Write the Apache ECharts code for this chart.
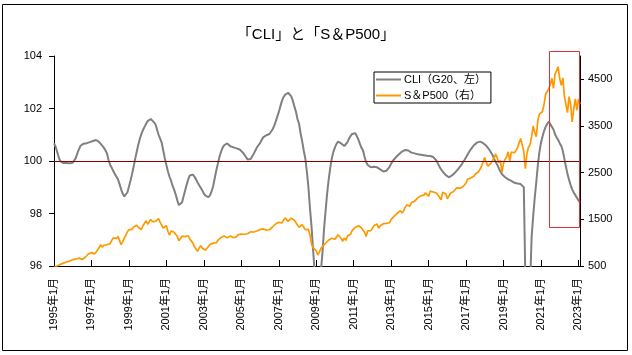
<!DOCTYPE html>
<html><head><meta charset="utf-8">
<script src="https://cdn.jsdelivr.net/npm/echarts@6/dist/echarts.min.js"></script>
<style>html,body{margin:0;padding:0;background:#fff}#c{width:632px;height:355px}</style>
</head><body><div id="c"></div>
<script>
// Categories: monthly from 1995年1月 to 2023年2月
const startYear = 1995;
const monthCount = 338;
const categories = [];
for (let i = 0; i < monthCount; i++) {
  categories.push((startYear + Math.floor(i / 12)) + '年' + (i % 12 + 1) + '月');
}

// OECD CLI (G20), left axis
const cliValues = [
  100.67,100.55,100.35,100.15,100.0,99.93,99.92,99.91,99.92,99.92,99.91,99.92,
  99.93,99.98,100.12,100.3,100.45,100.58,100.64,100.66,100.66,100.68,100.7,100.72,
  100.74,100.76,100.79,100.8,100.78,100.72,100.65,100.58,100.5,100.4,100.28,100.02,
  99.85,99.74,99.62,99.5,99.4,99.3,99.12,98.92,98.76,98.65,98.66,98.8,
  99.02,99.25,99.5,99.78,100.08,100.35,100.62,100.85,101.03,101.18,101.3,101.42,
  101.52,101.58,101.6,101.56,101.48,101.4,101.2,101.0,100.85,100.7,100.4,100.1,
  99.85,99.6,99.4,99.25,99.05,98.9,98.72,98.5,98.32,98.3,98.42,98.65,
  98.88,99.1,99.3,99.45,99.5,99.48,99.4,99.3,99.18,99.08,98.98,98.88,
  98.76,98.68,98.63,98.62,98.7,98.85,99.05,99.35,99.65,99.9,100.15,100.35,
  100.5,100.6,100.66,100.67,100.62,100.56,100.53,100.52,100.5,100.48,100.46,100.44,
  100.4,100.32,100.24,100.15,100.06,100.04,100.08,100.18,100.28,100.4,100.52,100.6,
  100.68,100.8,100.9,100.95,100.98,101.0,101.03,101.05,101.2,101.33,101.5,101.68,
  101.86,102.08,102.28,102.43,102.52,102.58,102.6,102.55,102.46,102.3,102.08,101.88,
  101.6,101.42,101.05,100.75,100.4,100.1,99.6,99.0,98.2,97.5,96.6,95.8,
  95.1,94.8,95.2,95.8,96.5,97.4,98.1,98.77,99.3,99.75,100.1,100.35,
  100.52,100.65,100.74,100.72,100.67,100.62,100.57,100.62,100.72,100.85,100.95,101.03,
  101.07,101.06,100.95,100.82,100.65,100.5,100.4,100.15,99.95,99.85,99.78,99.76,
  99.77,99.78,99.78,99.76,99.72,99.68,99.64,99.6,99.59,99.63,99.7,99.78,
  99.9,100.0,100.06,100.14,100.2,100.26,100.32,100.36,100.4,100.42,100.42,100.4,
  100.36,100.32,100.3,100.29,100.27,100.26,100.25,100.24,100.23,100.22,100.21,100.2,
  100.2,100.19,100.19,100.15,100.08,100.02,99.9,99.78,99.68,99.6,99.53,99.46,
  99.4,99.38,99.4,99.45,99.5,99.56,99.63,99.7,99.76,99.85,99.95,100.04,
  100.14,100.25,100.35,100.44,100.52,100.6,100.66,100.7,100.73,100.74,100.72,100.68,
  100.65,100.58,100.5,100.42,100.32,100.22,100.08,99.96,99.86,99.72,99.6,99.5,
  99.44,99.38,99.33,99.3,99.28,99.24,99.2,99.17,99.15,99.14,99.13,99.12,
  99.12,99.0,95.5,92.5,93.0,95.2,97.1,97.9,98.6,99.2,99.85,100.35,
  100.7,100.93,101.15,101.3,101.42,101.5,101.45,101.3,101.2,101.02,100.9,100.8,
  100.68,100.57,100.38,100.08,99.78,99.5,99.28,99.08,98.92,98.8,98.7,98.6,
  98.5,98.42
];

// S&P500, right axis
const spxValues = [
  470.4,487.4,500.7,514.7,533.4,544.8,562.1,561.9,584.4,581.5,605.4,615.9,
  636.0,640.4,645.5,654.2,669.1,670.6,639.9,652.0,687.3,705.3,757.0,740.7,
  786.2,790.8,757.1,801.3,848.3,885.1,954.3,899.5,947.3,914.6,955.4,970.4,
  980.3,1049.3,1101.8,1111.8,1090.8,1133.8,1120.7,957.3,1017.0,1098.7,1163.6,1229.2,
  1279.6,1238.3,1286.4,1335.2,1301.8,1372.7,1328.7,1320.4,1282.7,1362.9,1388.9,1469.3,
  1394.5,1366.4,1498.6,1452.4,1420.6,1454.6,1430.8,1517.7,1436.5,1429.4,1314.9,1320.3,
  1366.0,1239.9,1160.3,1249.5,1255.8,1224.4,1211.2,1133.6,1040.9,1059.8,1139.5,1148.1,
  1130.2,1106.7,1147.4,1076.9,1067.1,989.8,911.6,916.1,815.3,885.8,936.3,879.8,
  855.7,841.2,848.2,916.9,963.6,974.5,990.3,1008.0,996.0,1050.7,1058.2,1111.9,
  1131.1,1144.9,1126.2,1107.3,1120.7,1140.8,1101.7,1104.2,1114.6,1130.2,1173.8,1211.9,
  1181.3,1203.6,1180.6,1156.9,1191.5,1191.3,1234.2,1220.3,1228.8,1207.0,1249.5,1248.3,
  1280.1,1280.7,1294.8,1310.6,1270.1,1270.2,1276.7,1303.8,1335.9,1377.9,1400.6,1418.3,
  1438.2,1406.8,1420.9,1482.4,1530.6,1503.4,1455.3,1474.0,1526.8,1549.4,1481.1,1468.4,
  1378.6,1330.6,1322.7,1385.6,1400.4,1280.0,1267.4,1282.8,1166.4,968.8,896.2,903.3,
  825.9,735.1,797.9,872.8,919.1,919.3,987.5,1020.6,1057.1,1036.2,1095.6,1115.1,
  1073.9,1104.5,1169.4,1186.7,1089.4,1030.7,1101.6,1049.3,1141.2,1183.3,1180.6,1257.6,
  1286.1,1327.2,1325.8,1363.6,1345.2,1320.6,1292.3,1218.9,1131.4,1253.3,1247.0,1257.6,
  1312.4,1365.7,1408.5,1397.9,1310.3,1362.2,1379.3,1406.6,1440.7,1412.2,1416.2,1426.2,
  1498.1,1514.7,1569.2,1597.6,1630.7,1606.3,1685.7,1633.0,1681.6,1756.5,1805.8,1848.4,
  1782.6,1859.5,1872.3,1884.0,1923.6,1960.2,1930.7,2003.4,1972.3,2018.1,2067.6,2058.9,
  1995.0,2104.5,2067.9,2085.5,2107.4,2063.1,2103.8,1972.2,1920.0,2079.4,2080.4,2043.9,
  1940.2,1932.2,2059.7,2065.3,2097.0,2098.9,2173.6,2171.0,2168.3,2126.2,2198.8,2238.8,
  2278.9,2363.6,2362.7,2384.2,2411.8,2423.4,2470.3,2471.7,2519.4,2575.3,2647.6,2673.6,
  2823.8,2713.8,2640.9,2648.1,2705.3,2718.4,2816.3,2901.5,2914.0,2711.7,2760.2,2506.9,
  2704.1,2784.5,2834.4,2945.8,2752.1,2941.8,2980.4,2926.5,2976.7,3037.6,3141.0,3230.8,
  3225.5,2954.2,2584.6,2912.4,3044.3,3100.3,3271.1,3500.3,3363.0,3270.0,3621.6,3756.1,
  3714.2,3811.2,3972.9,4181.2,4204.1,4297.5,4395.3,4522.7,4307.5,4605.4,4567.0,4766.2,
  4515.6,4373.9,4530.4,4131.9,4132.2,3785.4,4130.3,3955.0,3585.6,3872.0,4080.1,3839.5,
  4076.6,3970.2
];

const leftTicks = [96, 98, 100, 102, 104];
const rightTicks = [500, 1500, 2500, 3500, 4500];
const labelStep = 24;
const referenceLevel = 100;
const highlightFrom = '2021年6月';
const highlightTop = 104.19;
const highlightBottom = 97.49;

const FONT = "'Liberation Sans','Noto Sans CJK JP',sans-serif";
const chart = echarts.init(document.getElementById('c'), null, {renderer: 'canvas'});
const everyStep = (idx) => idx % labelStep === 0;

chart.setOption({
  animation: false,
  backgroundColor: '#fff',
  title: {
    text: '「CLI」と「S＆P500」',
    left: 'center', top: 22,
    textStyle: {fontSize: 15, fontWeight: 'normal', color: '#000', fontFamily: FONT}
  },
  legend: {
    orient: 'vertical', left: 374, top: 72,
    padding: [1, 5, 1, 2], itemGap: 3,
    icon: 'rect', itemWidth: 25, itemHeight: 2,
    borderColor: '#000', borderWidth: 1, backgroundColor: '#fff',
    textStyle: {fontSize: 11, lineHeight: 13, color: '#000', fontFamily: FONT, padding: [0,0,0,-2]},
    data: ['CLI（G20、左）', 'S＆P500（右）']
  },
  grid: {left: 54, right: 52, top: 56, bottom: 89, containLabel: false},
  xAxis: {
    type: 'category', data: categories, boundaryGap: false,
    axisLine: {lineStyle: {color: '#000', width: 1}},
    axisTick: {inside: true, length: 6, interval: everyStep, lineStyle: {color: '#000'}},
    axisLabel: {rotate: 90, interval: everyStep, fontSize: 11, color: '#000', margin: 12, fontFamily: FONT},
    splitLine: {show: false}
  },
  yAxis: [
    {
      type: 'value', min: 96, max: 104, interval: 2, position: 'left',
      axisLine: {show: true, lineStyle: {color: '#000'}},
      axisTick: {show: true, length: 5, lineStyle: {color: '#000'}, customValues: leftTicks},
      axisLabel: {fontSize: 11, color: '#000', margin: 12, fontFamily: FONT, customValues: leftTicks,
                  formatter: (v) => String(v)},
      splitLine: {show: false}
    },
    {
      type: 'value', min: 500, max: 5000, interval: 1000, position: 'right',
      axisLine: {show: true, lineStyle: {color: '#000'}},
      axisTick: {show: true, length: 4, lineStyle: {color: '#000'}, customValues: rightTicks},
      axisLabel: {fontSize: 11, color: '#000', margin: 8, fontFamily: FONT, customValues: rightTicks,
                  formatter: (v) => String(v)},
      splitLine: {show: false}
    }
  ],
  series: [
    {
      name: 'CLI（G20、左）', type: 'line', yAxisIndex: 0, data: cliValues,
      symbol: 'none', z: 2,
      lineStyle: {color: '#808080', width: 2}, itemStyle: {color: '#808080'},
      markLine: {
        silent: true, symbol: ['none', 'none'], label: {show: false},
        lineStyle: {color: '#800000', width: 1, type: 'solid'},
        data: [{yAxis: referenceLevel}]
      }
    },
    {
      name: 'S＆P500（右）', type: 'line', yAxisIndex: 1, data: spxValues,
      symbol: 'none', z: 3,
      lineStyle: {color: '#ff9900', width: 1.7}, itemStyle: {color: '#ff9900'}
    }
  ]
});

const p1 = chart.convertToPixel({gridIndex: 0}, [highlightFrom, highlightTop]);
const p2 = chart.convertToPixel({gridIndex: 0}, [highlightFrom, highlightBottom]);
const rightEdge = chart.convertToPixel({gridIndex: 0}, [categories[monthCount - 1], highlightBottom]);
chart.setOption({
  graphic: [
    {type: 'rect', z: 100, shape: {x: 2.5, y: 4.5, width: 625, height: 346},
     style: {fill: 'none', stroke: '#000', lineWidth: 1}},
    {type: 'rect', z: 100,
     shape: {x: Math.round(p1[0]) + 0.5, y: Math.round(p1[1]) + 0.5,
             width: Math.round(rightEdge[0] - 1 - p1[0]), height: Math.round(p2[1] - p1[1])},
     style: {fill: 'none', stroke: '#e0303a', lineWidth: 1}}
  ]
});
</script>
</body></html>
